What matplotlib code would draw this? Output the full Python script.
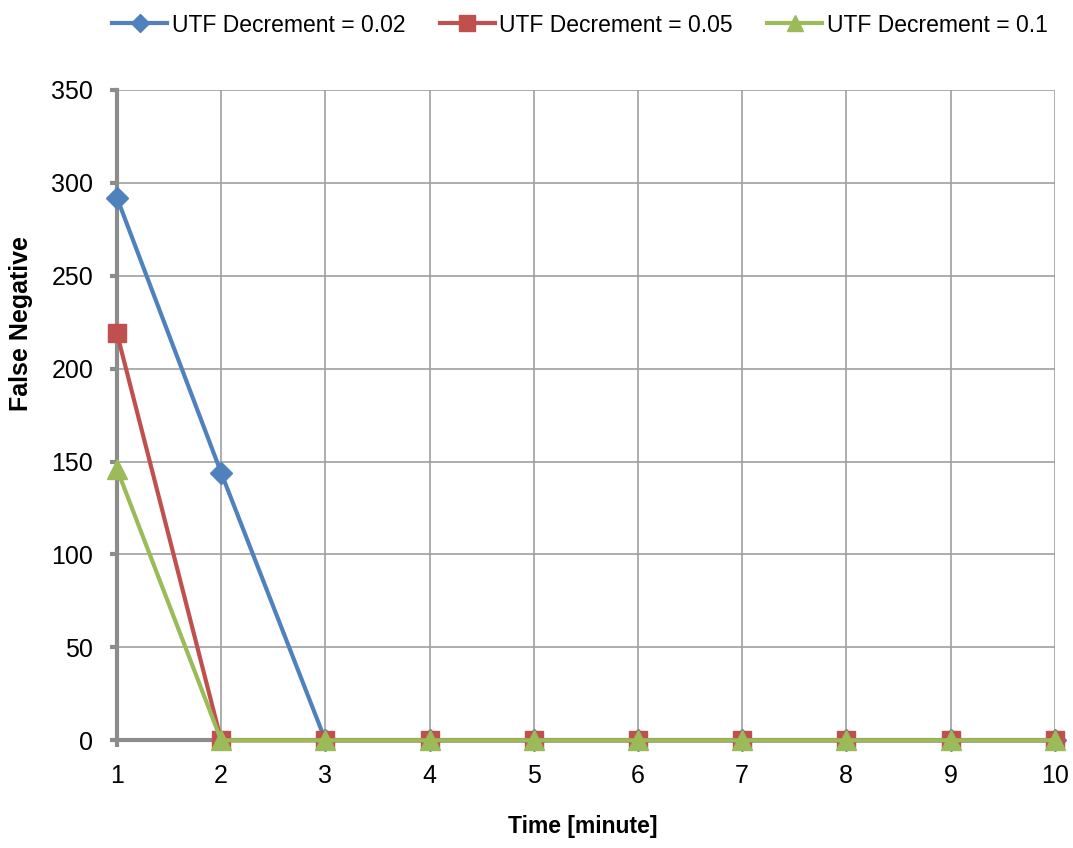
import matplotlib.pyplot as plt
import numpy as np

plt.rcParams['font.family'] = ['Liberation Sans', 'DejaVu Sans']

# time in minutes and false negative counts per UTF decrement
minutes = [1, 2, 3, 4, 5, 6, 7, 8, 9, 10]
fn_002 = [292, 144, 0, 0, 0, 0, 0, 0, 0, 0]
fn_005 = [219, 0, 0, 0, 0, 0, 0, 0, 0, 0]
fn_01 = [146, 0, 0, 0, 0, 0, 0, 0, 0, 0]
labels = ['UTF Decrement = 0.02', 'UTF Decrement = 0.05', 'UTF Decrement = 0.1']

fig = plt.figure(figsize=(10.73, 8.48), dpi=100)
ax = fig.add_axes([0.109, 0.127, 0.874, 0.767])

ax.plot(minutes, fn_002, color='#4F81BD', lw=3, marker='D', ms=11, label=labels[0], zorder=3, clip_on=False)
ax.plot(minutes, fn_005, color='#C0504D', lw=3, marker='s', ms=13, label=labels[1], zorder=4, clip_on=False)
ax.plot(minutes, fn_01, color='#9BBB59', lw=3, marker='^', ms=14, label=labels[2], zorder=5, clip_on=False)

ax.set_xlim(1, 10)
ax.set_ylim(0, 350)
ax.set_xticks(minutes)
ax.set_yticks(np.arange(0, 351, 50))
ax.grid(True, color='#A0A0A0', lw=1.2)
ax.set_axisbelow(True)

for s in ['top', 'right']:
    ax.spines[s].set_visible(False)
for s in ['left', 'bottom']:
    ax.spines[s].set_color('#8C8C8C')
    ax.spines[s].set_linewidth(3)
    ax.spines[s].set_zorder(2)
ax.tick_params(axis='both', length=5, width=3, color='#8C8C8C', labelsize=18)
ax.tick_params(axis='x', pad=12)
ax.tick_params(axis='y', pad=12)

ax.set_xlabel('Time [minute]', fontsize=16.5, fontweight='bold', va='top')
ax.xaxis.set_label_coords(0.497, -0.115)
ax.set_ylabel('False Negative', fontsize=18, fontweight='bold')
ax.yaxis.set_label_coords(-0.089, 0.6415)

fig.legend(loc='center', bbox_to_anchor=(0.5405, 0.9705), ncol=3, frameon=False,
           fontsize=16.5, handlelength=2.4, handletextpad=0.2, columnspacing=1.5,
           markerscale=0.85)

fig.savefig('out.png', dpi=100)
